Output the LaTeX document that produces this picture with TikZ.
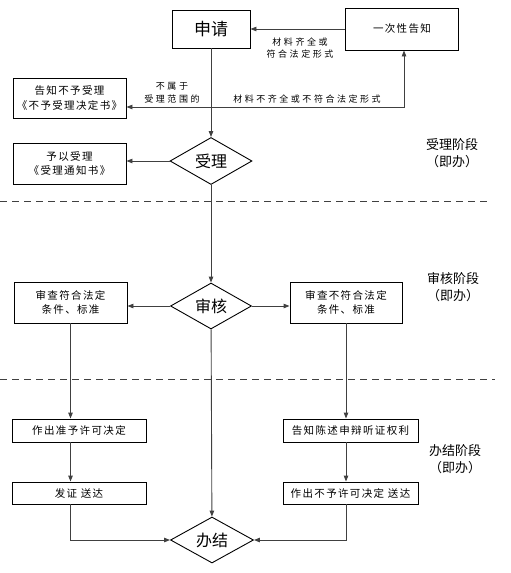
\documentclass[tikz,border=0pt]{standalone}
\usepackage{fontspec}
\newfontfamily\cjk{Noto Sans CJK SC}
\newfontfamily\cjkbox[LetterSpace=13]{Noto Sans CJK SC}
\newfontfamily\cjkwide[LetterSpace=28]{Noto Sans CJK SC}
\usetikzlibrary{shapes.geometric,arrows.meta}
\begin{document}
\begin{tikzpicture}[x=1pt,y=-1pt,
  every node/.style={font=\cjk},
  box/.style={draw,line width=0.9pt,minimum height=40pt,align=center,inner sep=1pt,font=\cjkbox\fontsize{10.5}{14.5}\selectfont},
  flat/.style={box,minimum height=23pt},
  dia/.style={draw,diamond,aspect=1.75,inner sep=0pt,line width=0.9pt,font=\cjk\fontsize{16}{18}\selectfont},
  tag/.style={align=center,font=\cjkwide\fontsize{9}{12.5}\selectfont},
  stage/.style={align=center,font=\cjk\fontsize{13}{17}\selectfont},
  arr/.style={-{Triangle[length=6pt,width=4.5pt]},line width=0.9pt,black!75},
  cut/.style={black!75,line width=0.9pt,dash pattern=on 7pt off 5pt}]
  \useasboundingbox (0,0) rectangle (511,573);
  % 受理
  \node[box,minimum width=78pt,minimum height=38pt,font=\cjk\fontsize{17}{18}\selectfont] (apply) at (211,29) {申请};
  \node[box,minimum width=113pt,minimum height=42pt] (ack) at (402,29) {一次性告知};
  \node[box,minimum width=113pt] (refuse) at (69.5,98) {告知不予受理\\《不予受理决定书》};
  \node[dia,minimum width=82pt,minimum height=47pt] (accept) at (211,161) {受理};
  \node[box,minimum width=113pt,minimum height=41pt] (notice) at (69.5,163.5) {予以受理\\《受理通知书》};
  \coordinate (split) at (211,107);
  \coordinate (corner) at (404,107);
  \draw[arr] (ack) -- (apply);
  \draw[arr] (apply) -- (accept);
  \draw[arr] (split) -- (split -| refuse.east);
  \draw[arr] (split) -- (corner) -- (corner |- ack.south);
  \draw[arr] (accept) -- (accept.west -| notice.east);
  \node[tag] (l1) at (300,48) {材料齐全或\\符合法定形式};
  \node[tag] (l2) at (172,93) {不属于\\受理范围的};
  \node[tag] (l3) at (307,99) {材料不齐全或不符合法定形式};
  \node[stage] (s1) at (452,153) {受理阶段\\（即办）};
  \draw[cut] (0,201) -- (487,201);
  % 审核
  \node[dia,minimum width=81pt,minimum height=46pt] (review) at (211,306) {审核};
  \node[box,minimum width=113pt,minimum height=41pt] (okbox) at (70.5,302.5) {审查符合法定\\条件、标准};
  \node[box,minimum width=112pt,minimum height=41pt] (nobox) at (346,302.5) {审查不符合法定\\条件、标准};
  \draw[arr] (accept) -- (review);
  \draw[arr] (review) -- (review.west -| okbox.east);
  \draw[arr] (review) -- (review.east -| nobox.west);
  \node[stage] (s2) at (453,287) {审核阶段\\（即办）};
  \draw[cut] (0,379) -- (495,379);
  % 办结
  \node[flat,minimum width=134pt] (grant) at (79,430.5) {作出准予许可决定};
  \node[flat,minimum width=134pt,minimum height=22pt] (deliver) at (79,493) {发证\ 送达};
  \node[flat,minimum width=135pt] (hearing) at (350.5,430.5) {告知陈述申辩听证权利};
  \node[flat,minimum width=135pt,minimum height=22pt] (deny) at (350.5,493) {作出不予许可决定\ 送达};
  \node[dia,minimum width=83pt,minimum height=46pt] (finish) at (212,540) {办结};
  \draw[arr] (okbox) -- (okbox.south |- grant.north);
  \draw[arr] (grant.south -| okbox.south) -- (deliver.north -| okbox.south);
  \draw[arr] (deliver.south -| okbox.south) |- (finish);
  \draw[arr] (nobox) -- (nobox.south |- hearing.north);
  \draw[arr] (hearing.south -| nobox.south) -- (deny.north -| nobox.south);
  \draw[arr] (deny.south -| nobox.south) |- (finish);
  \draw[arr] (review) -- (finish);
  \node[stage] (s3) at (455,459) {办结阶段\\（即办）};
\end{tikzpicture}
\end{document}
